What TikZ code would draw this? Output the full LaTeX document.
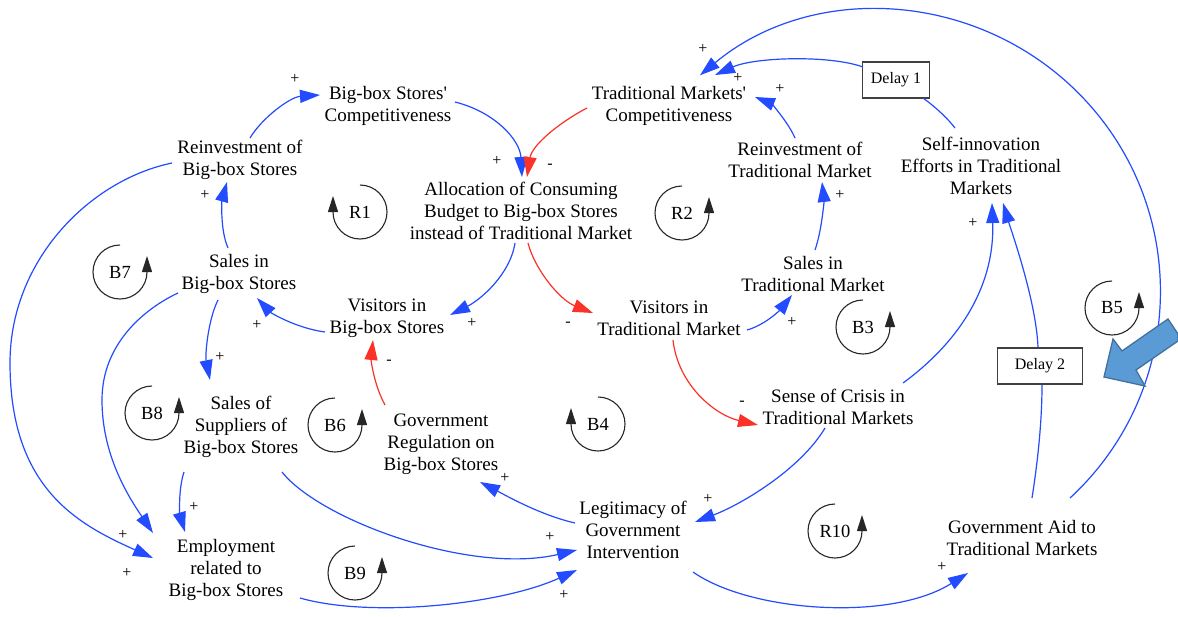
\documentclass[tikz,border=0pt]{standalone}
\usepackage{fontspec}
\setmainfont{Liberation Serif}[Ligatures=TeXOff]
\usetikzlibrary{arrows.meta}
\definecolor{linkblue}{RGB}{35,75,255}
\definecolor{linkred}{RGB}{250,50,40}
\definecolor{callout}{RGB}{91,155,213}
\definecolor{calloutedge}{RGB}{65,113,156}
\begin{document}
\begin{tikzpicture}[x=1pt,y=-1pt,
  varnode/.style={align=center,font=\fontsize{19}{22}\selectfont,inner sep=1pt},
  polsign/.style={font=\fontsize{16}{16}\selectfont,inner sep=0pt},
  poslink/.style={draw=linkblue,line width=1.2pt,-{Triangle[length=20pt,width=13pt]}},
  neglink/.style={draw=linkred,line width=1.2pt,-{Triangle[length=20pt,width=13pt]}},
  plainlink/.style={draw=linkblue,line width=1.2pt},
  loopmark/.style={draw=black!85,line width=1.1pt,-{Triangle[length=16pt,width=10pt]}},
  looplabel/.style={font=\fontsize{18.5}{18.5}\selectfont,inner sep=0pt},
  delaybox/.style={draw=black!75,line width=1.4pt,fill=white,font=\fontsize{16}{16}\selectfont,minimum height=36pt,inner sep=2pt}]

\fill[white] (0,0) rectangle (1178,616);
\useasboundingbox (0,0) rectangle (1178,616);

% ---------- variables ----------
\node[varnode] (bbc) at (388,106) {Big-box Stores'\\Competitiveness};
\node[varnode] (tmc) at (669,106) {Traditional Markets'\\Competitiveness};
\node[varnode] (rbb) at (240,160) {Reinvestment of\\Big-box Stores};
\node[varnode] (alloc) at (521,211) {Allocation of Consuming\\Budget to Big-box Stores\\instead of Traditional Market};
\node[varnode] (rtm) at (800,160) {Reinvestment of\\Traditional Market};
\node[varnode] (self) at (981,166) {Self-innovation\\Efforts in Traditional\\Markets};
\node[varnode] (sbb) at (239,274) {Sales in\\Big-box Stores};
\node[varnode] (stm) at (813,274) {Sales in\\Traditional Market};
\node[varnode] (vbb) at (387,318) {Visitors in\\Big-box Stores};
\node[varnode] (vtm) at (669,318) {Visitors in\\Traditional Market};
\node[varnode] (ssup) at (241,427) {Sales of\\Suppliers of\\Big-box Stores};
\node[varnode] (greg) at (441,444) {Government\\Regulation on\\Big-box Stores};
\node[varnode] (crisis) at (838,407) {Sense of Crisis in\\Traditional Markets};
\node[varnode] (legit) at (633,530) {Legitimacy of\\Government\\Intervention};
\node[varnode] (emp) at (226,570) {Employment\\related to\\Big-box Stores};
\node[varnode] (aid) at (1022,538) {Government Aid to\\Traditional Markets};

% ---------- links ----------
\draw[poslink] ([shift={(10,-22)}]rbb.center) .. controls (262,118) and (290,97) .. ([shift={(-68,-11)}]bbc.center);
\draw[poslink] ([shift={(-11,-26)}]sbb.center) .. controls (220,230) and (222,200) .. ([shift={(-13,22)}]rbb.center);
\draw[poslink] ([shift={(67,-4)}]bbc.center) .. controls (495,112) and (520,140) .. ([shift={(1,-34)}]alloc.center);
\draw[neglink] ([shift={(-82,2)}]tmc.center) .. controls (560,122) and (532,145) .. ([shift={(6,-34)}]alloc.center);
\draw[poslink] ([shift={(-6,32)}]alloc.center) .. controls (510,275) and (480,300) .. ([shift={(63,-3)}]vbb.center);
\draw[neglink] ([shift={(7,32)}]alloc.center) .. controls (535,270) and (560,300) .. ([shift={(-76,-5)}]vtm.center);
\draw[poslink] ([shift={(-62,14)}]vbb.center) .. controls (295,328) and (270,312) .. ([shift={(18,24)}]sbb.center);
\draw[poslink] ([shift={(78,12)}]vtm.center) .. controls (765,325) and (780,310) .. ([shift={(-21,21)}]stm.center);
\draw[poslink] ([shift={(2,-24)}]stm.center) .. controls (822,230) and (824,200) .. ([shift={(22,22)}]rtm.center);
\draw[poslink] ([shift={(-5,-22)}]rtm.center) .. controls (787,120) and (770,103) .. ([shift={(86,-9)}]tmc.center);
\draw[neglink] ([shift={(4,22)}]vtm.center) .. controls (678,385) and (715,415) .. ([shift={(-80,18)}]crisis.center);
\draw[poslink] ([shift={(-13,21)}]crisis.center) .. controls (800,470) and (740,505) .. ([shift={(62,-8)}]legit.center);
\draw[poslink] ([shift={(-58,-7)}]legit.center) .. controls (540,515) and (505,495) .. ([shift={(39,38)}]greg.center);
\draw[neglink] ([shift={(-56,-39)}]greg.center) .. controls (374,385) and (371,360) .. ([shift={(-14,22)}]vbb.center);
\draw[poslink] ([shift={(41,45)}]ssup.center) .. controls (320,520) and (470,575) .. ([shift={(-56,20)}]legit.center);
\draw[poslink] ([shift={(74,28)}]emp.center) .. controls (370,618) and (500,605) .. ([shift={(-56,40)}]legit.center);
\draw[poslink] ([shift={(60,42)}]legit.center) .. controls (750,612) and (890,622) .. ([shift={(-54,35)}]aid.center);
\draw[poslink] ([shift={(-21,26)}]sbb.center) .. controls (208,320) and (205,355) .. ([shift={(-31,-47)}]ssup.center);
\draw[poslink] ([shift={(-57,45)}]ssup.center) .. controls (178,490) and (180,515) .. ([shift={(-41,-38)}]emp.center);
\draw[poslink] ([shift={(-61,19)}]sbb.center) .. controls (150,306) and (102,340) .. (102,400)
  .. controls (102,455) and (128,496) .. ([shift={(-73,-37)}]emp.center);
\draw[poslink] ([shift={(-68,3)}]rbb.center) .. controls (90,180) and (10,260) .. (10,363)
  .. controls (10,490) and (80,525) .. ([shift={(-73,-12)}]emp.center);
\draw[poslink] ([shift={(65,-24)}]crisis.center) .. controls (955,345) and (995,290) .. ([shift={(11,37)}]self.center);

% delayed links
\node[delaybox,minimum width=67pt] (d1) at (896,80) {Delay 1};
\node[delaybox,minimum width=85pt] (d2) at (1040,366) {Delay 2};
\draw[plainlink] ([shift={(-26,-38)}]self.center) .. controls (945,115) and (930,103) .. ([shift={(27,18)}]d1.center);
\draw[poslink] ([shift={(-33,-13)}]d1.center) .. controls (830,55) and (755,57) .. ([shift={(46,-31)}]tmc.center);
\draw[plainlink] ([shift={(10,-40)}]aid.center) .. controls (1038,460) and (1042,420) .. ([shift={(2,19)}]d2.center);
\draw[poslink] ([shift={(-2,-19)}]d2.center) .. controls (1036,300) and (1011,230) .. ([shift={(22,37)}]self.center);

% long arc from government aid back to traditional markets' competitiveness
\draw[poslink] ([shift={(48,-40)}]aid.center) arc[start angle=47.3,end angle=-129.7,radius=281];

% ---------- polarity signs ----------
\node[polsign] (s1) at (295,79) {+};
\node[polsign] (s2) at (205,195) {+};
\node[polsign] (s3) at (497,161) {+};
\node[polsign] (s4) at (550,166) {-};
\node[polsign] (s5) at (472,323) {+};
\node[polsign] (s6) at (568,324) {-};
\node[polsign] (s7) at (257,325) {+};
\node[polsign] (s8) at (792,322) {+};
\node[polsign] (s9) at (840,195) {+};
\node[polsign] (s10) at (780,89) {+};
\node[polsign] (s11) at (738,78) {+};
\node[polsign] (s12) at (703,49) {+};
\node[polsign] (s13) at (973,223) {+};
\node[polsign] (s14) at (389,362) {-};
\node[polsign] (s15) at (742,403) {-};
\node[polsign] (s16) at (708,499) {+};
\node[polsign] (s17) at (505,478) {+};
\node[polsign] (s18) at (550,537) {+};
\node[polsign] (s19) at (564,595) {+};
\node[polsign] (s20) at (942,567) {+};
\node[polsign] (s21) at (220,357) {+};
\node[polsign] (s22) at (194,507) {+};
\node[polsign] (s23) at (123,535) {+};
\node[polsign] (s24) at (127,573) {+};

% ---------- loop markers ----------
\foreach \lname/\lx/\ly in {R2/682/213, B7/120/272, B8/152/413, B6/335/425, B9/355/573, B3/863/327, R10/835/531, B5/1112/308}{
  \node[looplabel] (\lname) at (\lx,\ly) {\lname};
  \draw[loopmark] ([shift={(0,-27)}]\lname.center) arc[start angle=270,end angle=0,radius=27] -- ++(0,-16);
}
\foreach \lname/\lx/\ly in {R1/360/212, B4/598/424}{
  \node[looplabel] (\lname) at (\lx,\ly) {\lname};
  \draw[loopmark] ([shift={(0,-27)}]\lname.center) arc[start angle=270,end angle=540,radius=27] -- ++(0,-16);
}

% ---------- callout arrow ----------
\draw[fill=callout,draw=calloutedge,line width=1.3pt,line join=miter]
  (1104,377) -- (1113,339) -- (1122,351) -- (1168,319) -- (1178,334) -- (1178,341) -- (1136,370) -- (1145,386) -- cycle;

\end{tikzpicture}
\end{document}
